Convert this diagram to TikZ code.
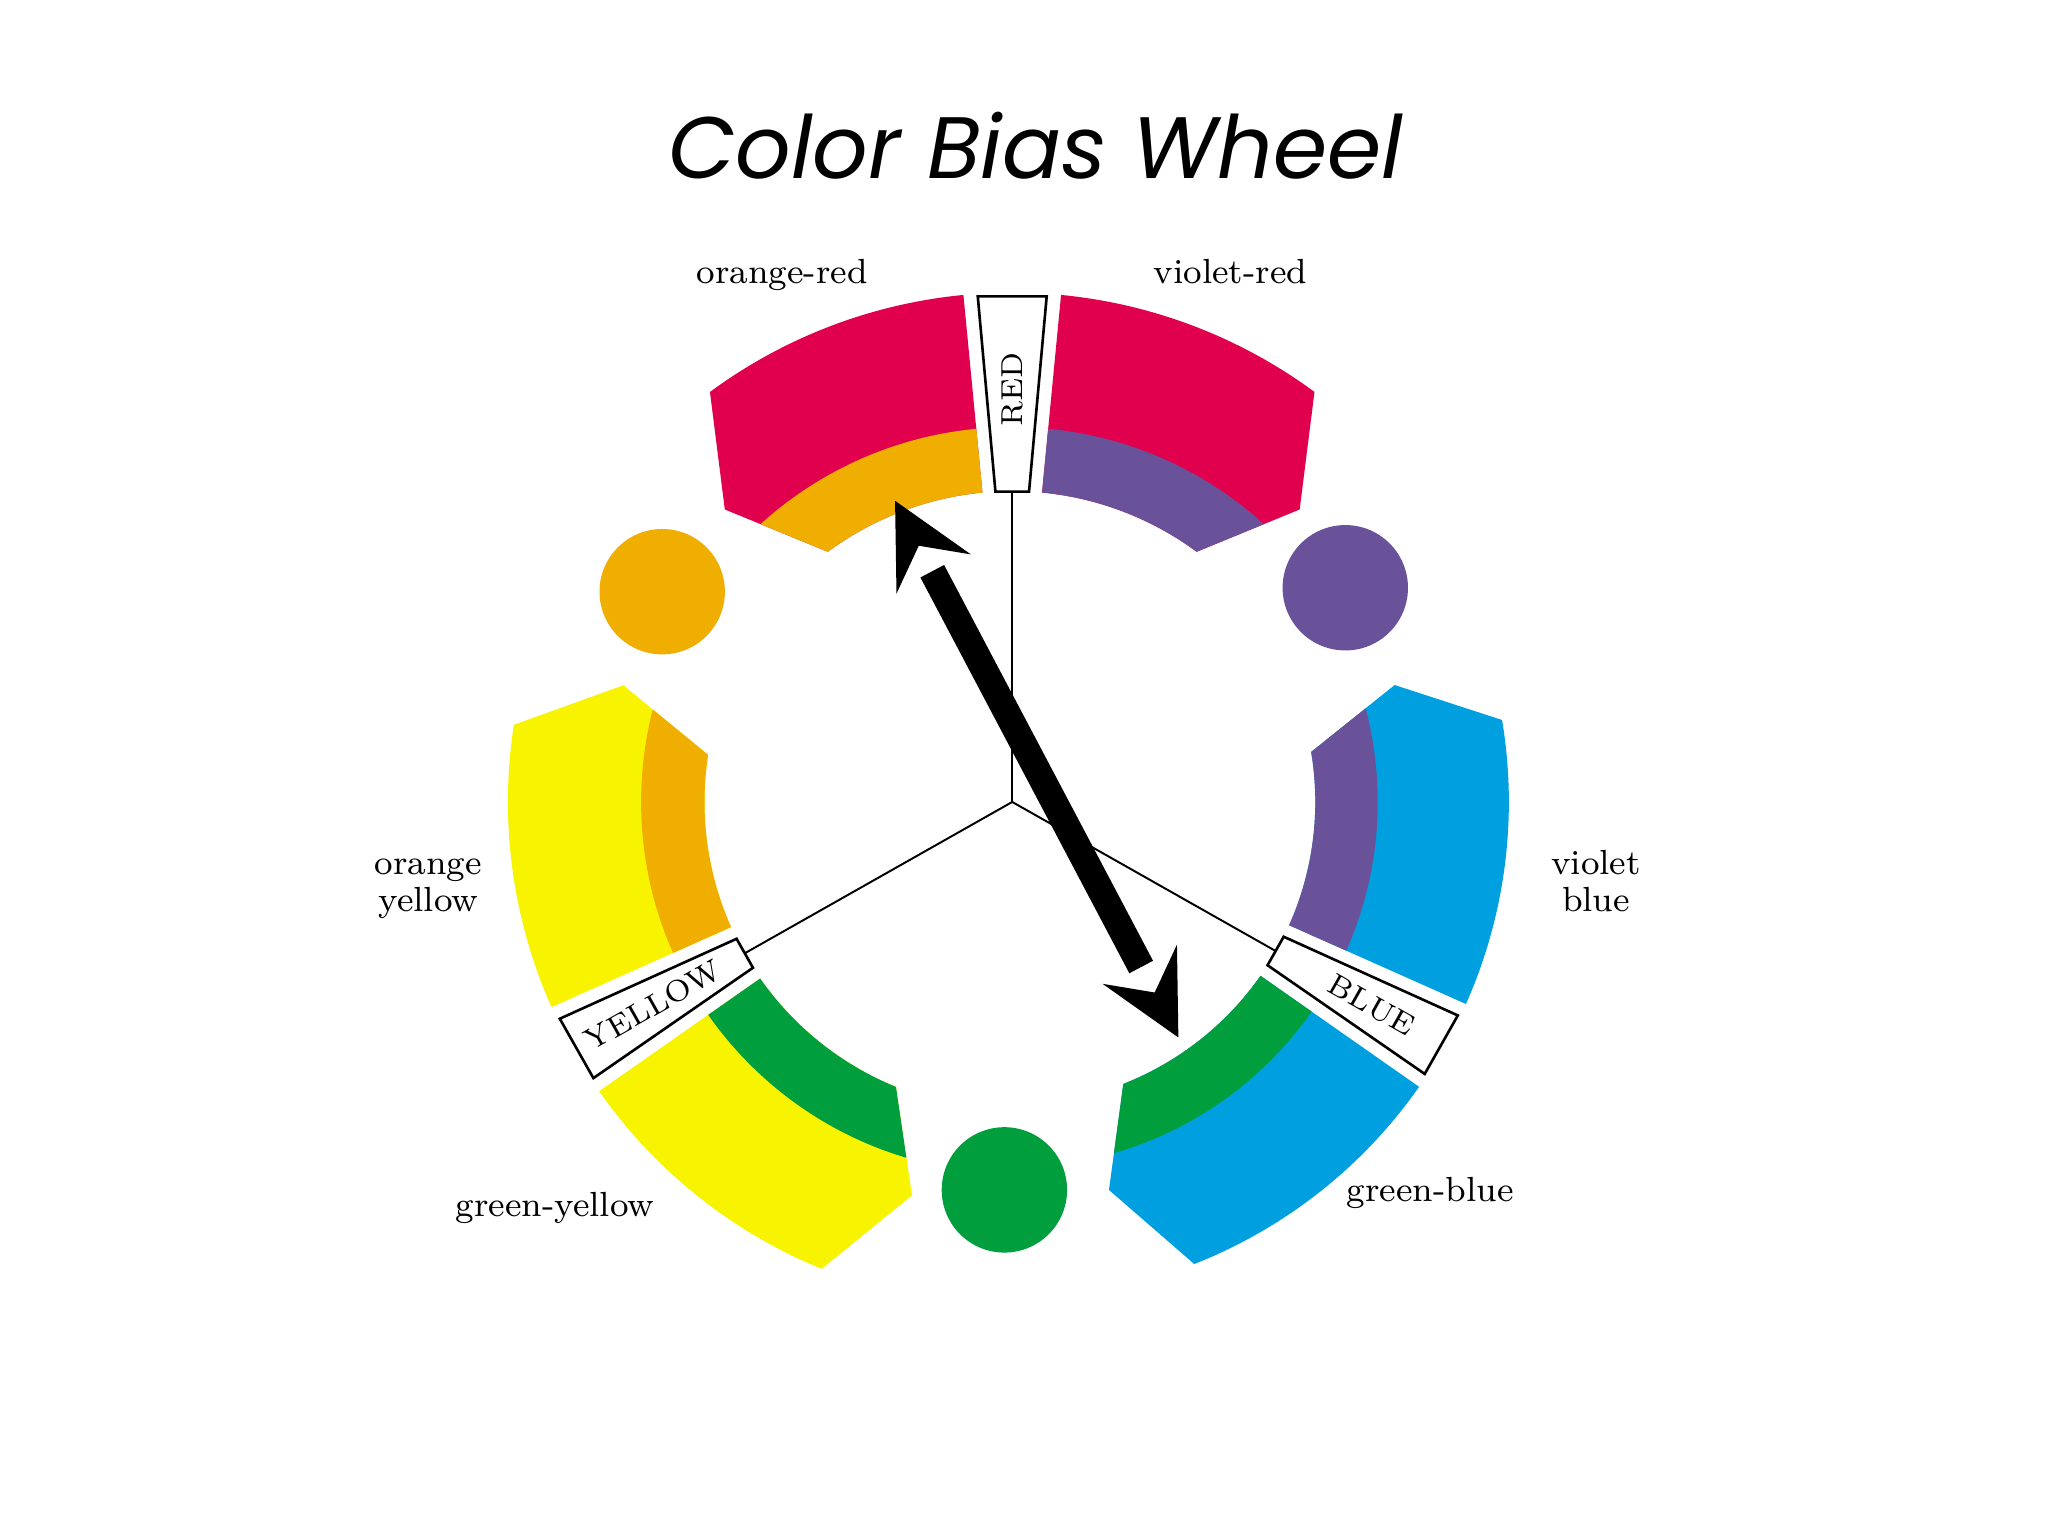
\documentclass[tikz,border=0pt]{standalone}
\usepackage{fontspec}
\newfontfamily\titlefont{Poppins}
\definecolor{wheelred}{HTML}{E0004E}
\definecolor{wheelorange}{HTML}{F0AE00}
\definecolor{wheelviolet}{HTML}{6A529B}
\definecolor{wheelyellow}{HTML}{F8F400}
\definecolor{wheelgreen}{HTML}{009E3D}
\definecolor{wheelblue}{HTML}{009FE0}
\tikzset{
  title/.style={font=\titlefont\itshape\fontsize{19}{19}\selectfont, anchor=base},
  hue label/.style={font=\fontsize{7.6}{8}\selectfont, align=center, anchor=base, inner sep=0pt},
  hue box/.style={draw, line width=0.2mm, fill=white},
  box text/.style={font=\fontsize{6.6}{6.6}\selectfont, inner sep=0pt},
  spoke/.style={line width=0.15mm},
  dot/.style={circle, fill=#1, minimum size=9.6mm, inner sep=0pt},
  bias shaft/.style={line width=2.05mm, shorten <=6.1mm, shorten >=6.1mm},
}
% axis, side (1 or -1), main hue, bias hue, far end, tip
\newcommand{\biasarc}[6]{%
  \begin{scope}
    \clip ({#1+#2*5.5}:390) arc[start angle={#1+#2*5.5}, end angle={#1+#2*#5}, radius=390]
      -- ({#1+#2*#6}:314) -- ({#1+#2*#5}:238)
      arc[start angle={#1+#2*#5}, end angle={#1+#2*5.5}, radius=238] -- cycle;
    \fill[#3] (0,0) circle[radius=400];
    \fill[#4] (0,0) circle[radius=287];
  \end{scope}}

\begin{document}
\begin{tikzpicture}[x=0.1mm, y=0.1mm]
  \fill[white] (-775,-562) rectangle (793,614);
  \useasboundingbox (-775,-562) rectangle (793,614);

  \node[title] (title) at (18,477) {Color Bias Wheel};

  \coordinate (hub) at (0,0);
  \foreach \ax/\sc/\far/\tip/\hue/\ccw/\cw/\name/\rot in {
      90/1/36.4/44.5/wheelred/wheelorange/wheelviolet/RED/90,
      209.5/0.99/38.3/46.2/wheelyellow/wheelgreen/wheelorange/YELLOW/29.5,
      330.5/0.975/39/46.5/wheelblue/wheelviolet/wheelgreen/BLUE/-29.5} {
    \begin{scope}[scale=\sc]
      \biasarc{\ax}{1}{\hue}{\ccw}{\far}{\tip}
      \biasarc{\ax}{-1}{\hue}{\cw}{\far}{\tip}
      \draw[hue box] ({\ax-3.9}:388) -- ({\ax+3.9}:388) -- ({\ax+3.1}:238) -- ({\ax-3.1}:238) -- cycle;
      \coordinate (foot \name) at (\ax:238);
    \end{scope}
    \node[box text, rotate=\rot] (tag \name) at (\ax:316) {\name};
    \draw[spoke] (hub) -- (foot \name);
  }

  \node[dot=wheelorange] (orange dot) at (-268,161) {};
  \node[dot=wheelviolet] (violet dot) at (255,164) {};
  \node[dot=wheelgreen] (green dot) at (-6,-297) {};

  \node[hue label] (orange-red) at (-176,397) {orange-red};
  \node[hue label] (violet-red) at (167,397) {violet-red};
  \node[hue label] (orange yellow) at (-447,-84) {orange\\yellow};
  \node[hue label] (violet blue) at (447,-84) {violet\\blue};
  \node[hue label] (green-yellow) at (-350,-317) {green-yellow};
  \node[hue label] (green-blue) at (320,-306) {green-blue};

  \coordinate (bias a) at (-89.7,230.6);
  \coordinate (bias b) at (127.2,-180.3);
  \draw[bias shaft] (bias a) -- (bias b);
  \foreach \tipname/\ang in {bias a/117.8, bias b/-62.2}
    \fill[shift={(\tipname)}, rotate=\ang] (0,0) -- (-63.4,32.2) -- (-38.9,0) -- (-63.4,-32.2) -- cycle;
\end{tikzpicture}
\end{document}
